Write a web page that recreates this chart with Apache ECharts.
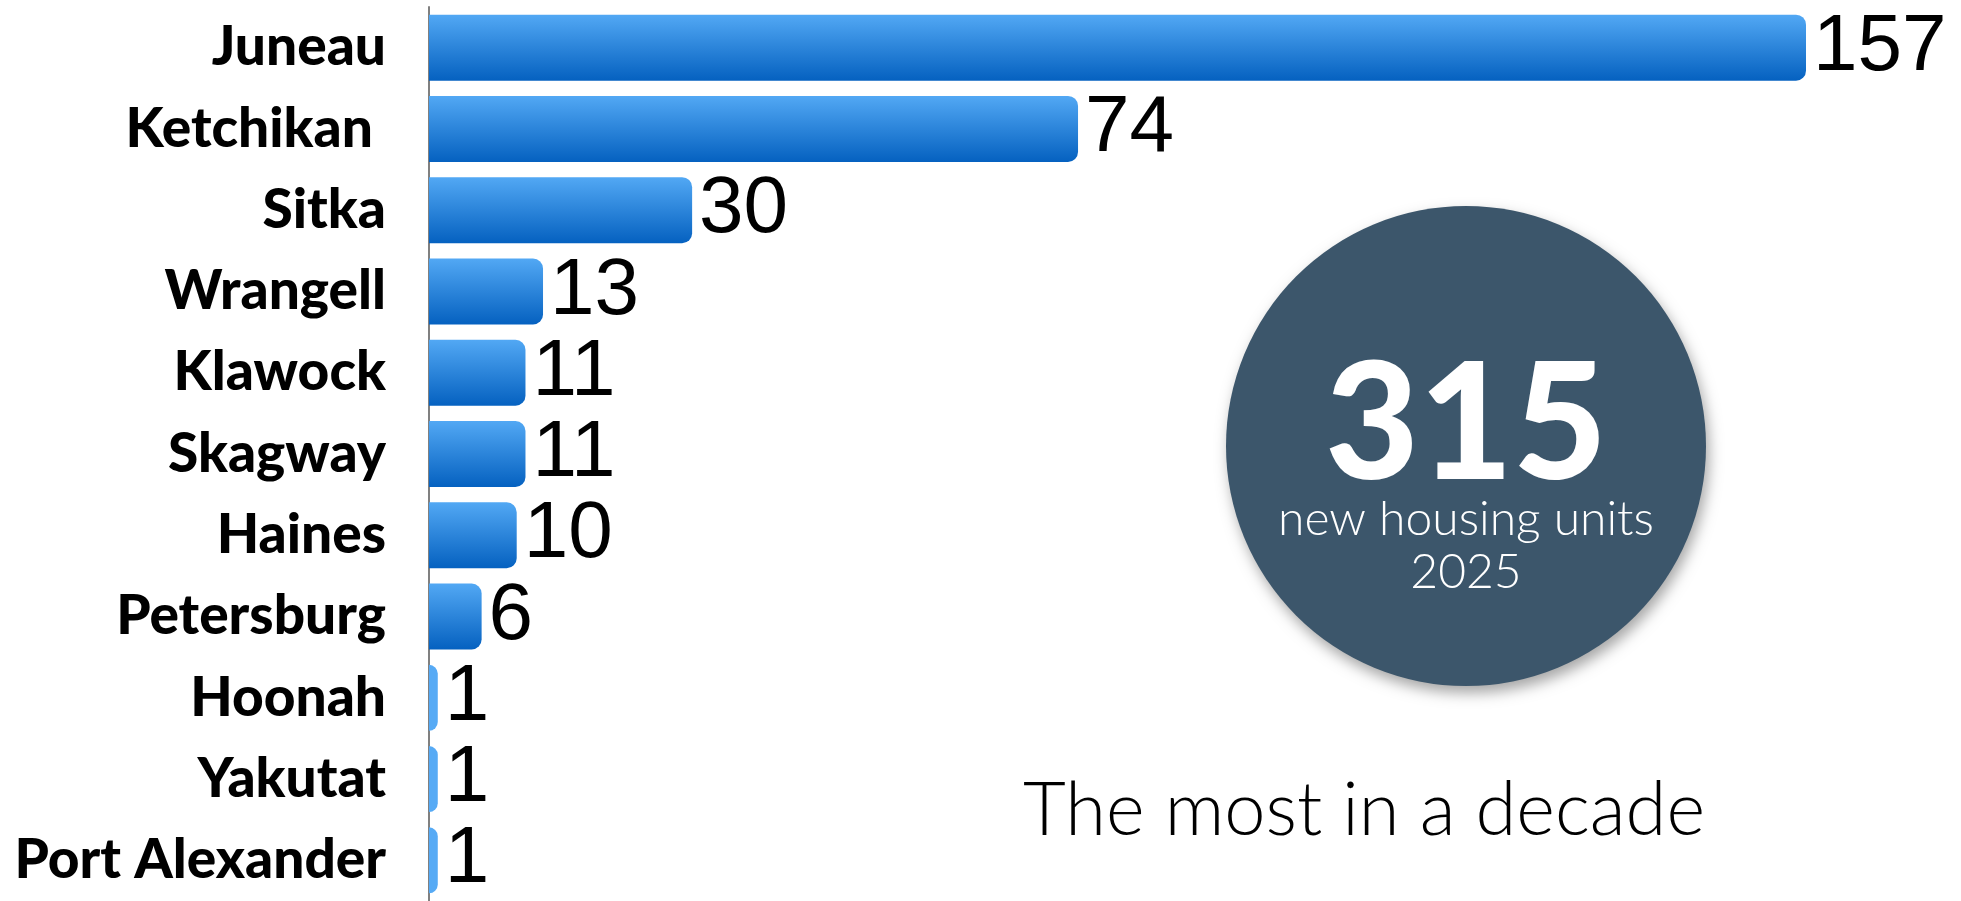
<!DOCTYPE html>
<html>
<head>
<meta charset="utf-8">
<title>New housing units 2025</title>
<script src="https://cdn.jsdelivr.net/npm/echarts@6/dist/echarts.min.js"></script>
<style>
  html, body { margin: 0; padding: 0; background: #ffffff; }
  #chart { width: 1961px; height: 901px; }
</style>
</head>
<body>
<div id="chart"></div>
<script>
// Communities, largest first (the axis is inverted so the first one sits on top)
const communities = ['Juneau', 'Ketchikan ', 'Sitka', 'Wrangell', 'Klawock', 'Skagway',
  'Haines', 'Petersburg', 'Hoonah', 'Yakutat', 'Port Alexander'];
// New housing units per community
const newUnits = [157, 74, 30, 13, 11, 11, 10, 6, 1, 1, 1];

const headline = 'new housing units';
const yearLabel = '2025';
const caption = 'The most in a decade';

const totalUnits = newUnits.reduce((a, b) => a + b, 0);

const barGradient = new echarts.graphic.LinearGradient(0, 0, 0, 1, [
  { offset: 0, color: '#52a8f4' },
  { offset: 1, color: '#0561c0' }
]);

const barData = newUnits.map(v => ({
  value: v,
  itemStyle: v <= 1 ? { color: '#56aaf5' } : {}
}));

const chart = echarts.init(document.getElementById('chart'), null, { renderer: 'canvas' });

chart.setOption({
  animation: false,
  backgroundColor: '#ffffff',
  grid: { left: 429, right: 155, top: 7, bottom: -4, containLabel: false },
  xAxis: {
    type: 'value', min: 0, max: 157, show: false
  },
  yAxis: {
    type: 'category',
    data: communities,
    inverse: true,
    axisLine: { show: true, lineStyle: { color: '#808080', width: 2 } },
    axisTick: { show: false },
    axisLabel: {
      margin: 43,
      color: '#000000',
      fontFamily: 'Lato',
      fontWeight: 900,
      fontSize: 55
    }
  },
  series: [{
    type: 'bar',
    data: barData,
    barWidth: 66,
    itemStyle: { color: barGradient, borderRadius: [0, 10, 10, 0] },
    label: {
      show: true,
      position: 'right',
      distance: 7,
      color: '#000000',
      fontFamily: 'Liberation Sans',
      fontSize: 80
    }
  }],
  graphic: [
    {
      type: 'circle',
      shape: { cx: 1466, cy: 446, r: 240 },
      style: {
        fill: '#3c566b',
        shadowBlur: 14,
        shadowOffsetX: 3,
        shadowOffsetY: 7,
        shadowColor: 'rgba(0,0,0,0.35)'
      },
      z: 10
    },
    {
      type: 'text', x: 1466, y: 427, z: 11,
      style: {
        text: String(totalUnits), fill: '#ffffff',
        font: '900 162px Lato', align: 'center', verticalAlign: 'middle'
      }
    },
    {
      type: 'text', x: 1466, y: 520, z: 11,
      style: {
        text: headline, fill: '#ffffff',
        font: '300 48px Lato', align: 'center', verticalAlign: 'middle'
      }
    },
    {
      type: 'text', x: 1466, y: 573, z: 11,
      style: {
        text: yearLabel, fill: '#ffffff',
        font: '300 48px Lato', align: 'center', verticalAlign: 'middle'
      }
    },
    {
      type: 'text', x: 1364, y: 811, z: 11,
      style: {
        text: caption, fill: '#000000',
        font: '300 74px Lato', align: 'center', verticalAlign: 'middle'
      }
    }
  ]
});
</script>
</body>
</html>
